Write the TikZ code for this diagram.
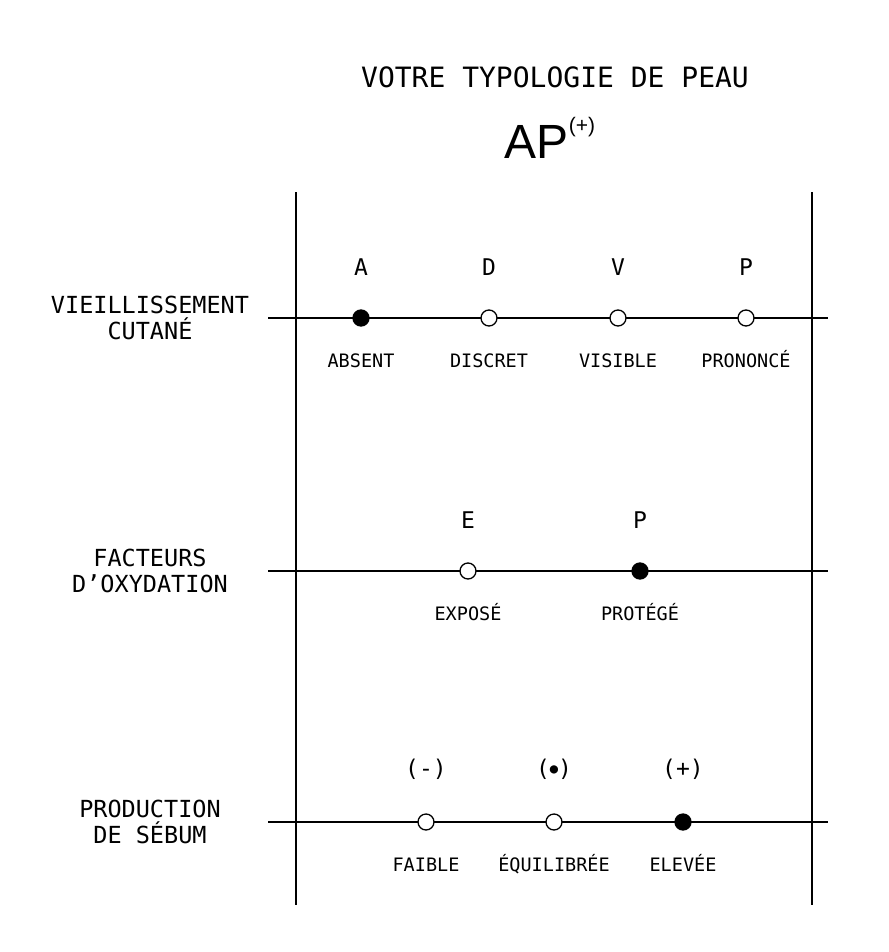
\documentclass[tikz,border=0pt]{standalone}
\usepackage{fontspec}
\setmainfont{DejaVu Sans Mono}
\newfontfamily\headfont{Liberation Sans}
\usetikzlibrary{positioning}

\begin{document}
\begin{tikzpicture}[x=1pt,y=-1pt,
            dot/.style={shape=circle, inner sep=0pt, minimum size=16pt, draw, fill=white, line width=1.3pt},
            circ/.style={dot, fill=black},
            letter/.style={font=\fontsize{23}{25}\selectfont},
            small/.style={font=\fontsize{18.5}{20}\selectfont, text height=13pt, text depth=2pt},
            side/.style={font=\fontsize{23.5}{26}\selectfont, align=center}]
        \useasboundingbox (0,0) rectangle (888,952);
        \node[font=\fontsize{28}{30}\selectfont] (title) at (555,77) {VOTRE TYPOLOGIE DE PEAU};
        \node[font=\headfont\fontsize{48}{52}\selectfont] (ap) at (550,138) {AP\raisebox{0.55em}{\fontsize{21}{23}\selectfont(+)}};

        % frame
        \coordinate (lt) at (296,192); \coordinate (lb) at (296,905);
        \coordinate (rt) at (812,192); \coordinate (rb) at (812,905);
        \draw[line width=1.3pt] (lt) -- (lb);
        \draw[line width=1.3pt] (rt) -- (rb);

        % rows
        \foreach \y/\name in {318/one,571/two,822/three} {
            \coordinate (\name l) at (268,\y);
            \coordinate (\name r) at (828,\y);
            \draw[line width=1.3pt] (\name l) -- (\name r);
        }

        \node[side] (vie) at (150,318) {VIEILLISSEMENT\\CUTANÉ};
        \node[side] (fac) at (150,571) {FACTEURS\\D’OXYDATION};
        \node[side] (pro) at (150,822) {PRODUCTION\\DE SÉBUM};

        \foreach \x/\s/\l/\st in {361/A/ABSENT/circ,489/D/DISCRET/dot,618/V/VISIBLE/dot,746/P/PRONONCÉ/dot} {
            \node[\st] (a\s) at (\x,318) {};
            \node[letter, above=30pt of a\s] {\s};
            \node[small, below=24pt of a\s] {\l};
        }
        \foreach \x/\s/\l/\st in {468/E/EXPOSÉ/dot,640/P/PROTÉGÉ/circ} {
            \node[\st] (b\s) at (\x,571) {};
            \node[letter, above=30pt of b\s] {\s};
            \node[small, below=24pt of b\s] {\l};
        }
        \foreach \x/\s/\l/\st/\n in {426/(-)/FAIBLE/dot/1,554/(\raisebox{0.15em}{\scalebox{0.6}{●}})/ÉQUILIBRÉE/dot/2,683/(+)/ELEVÉE/circ/3} {
            \node[\st] (c\n) at (\x,822) {};
            \node[letter, above=30pt of c\n] {\s};
            \node[small, below=24pt of c\n] {\l};
        }
\end{tikzpicture}
\end{document}
